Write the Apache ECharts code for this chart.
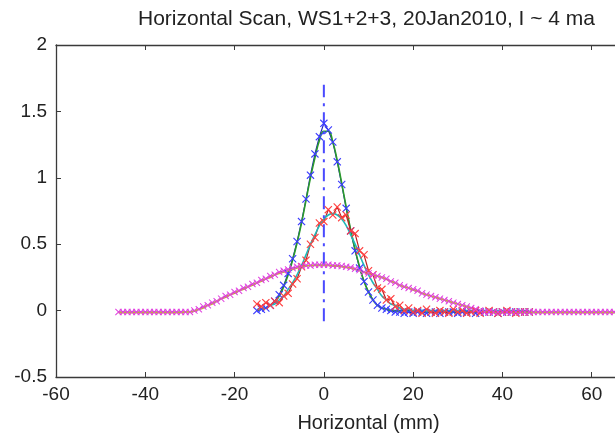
<!DOCTYPE html>
<html>
<head>
<meta charset="utf-8">
<script src="https://cdn.jsdelivr.net/npm/echarts@6/dist/echarts.min.js"></script>
<style>html,body{margin:0;padding:0;background:#fff;}#c{width:615px;height:438px;}</style>
</head>
<body>
<div id="c"></div>
<script>
// ---- data ----
var narrowX = [-15,-14,-13,-12,-11,-10,-9,-8,-7,-6,-5,-4,-3,-2,-1,0,1,2,3,4,5,6,7,8,9,10,11,12,13,14,15,16,17,18,19,20,21,22,23,24,25,26,27,28,29,30,31,32,33,34,35,36,37,38,39,40,41,42,43,44,45,46];
var blueData = [0.00,0.01,0.02,0.04,0.07,0.12,0.19,0.28,0.39,0.52,0.67,0.84,1.02,1.18,1.31,1.41,1.36,1.27,1.12,0.95,0.77,0.60,0.45,0.32,0.22,0.14,0.08,0.04,0.02,0.01,0.00,
  -0.01,-0.01,-0.02,-0.01,-0.02,-0.01,-0.01,-0.02,-0.01,-0.01,-0.02,-0.01,-0.01,-0.01,-0.02,-0.01,-0.01,-0.01,-0.02,-0.01,-0.01,-0.01,-0.01,-0.02,-0.01,-0.01,-0.01,-0.01,-0.01,-0.01,-0.01];
var greenFit = [0.00,0.01,0.02,0.04,0.07,0.11,0.18,0.27,0.38,0.51,0.66,0.83,1.00,1.15,1.28,1.35,1.35,1.27,1.13,0.96,0.78,0.61,0.46,0.33,0.22,0.14,0.08,0.04,0.02,0.01,
  0.00,0.00,0.00,0.00,0.00,0.00,0.00,0.00,-0.01,-0.01,-0.01,-0.01,-0.01,-0.01,-0.01,-0.01,-0.01,-0.01,-0.01,-0.01,-0.01,-0.01,-0.01,-0.01,-0.01,-0.01,-0.01,-0.01,-0.01,-0.01,-0.01,-0.01];
var redData = [0.05,0.03,0.06,0.04,0.07,0.06,0.11,0.13,0.20,0.24,0.33,0.38,0.50,0.55,0.66,0.67,0.76,0.72,0.78,0.70,0.72,0.60,0.58,0.45,0.42,0.30,0.27,0.17,0.16,0.08,0.09,0.03,0.04,0.00,0.02,-0.01,
  0.00,-0.02,0.01,-0.01,-0.02,0.00,-0.01,-0.02,0.01,-0.01,0.00,-0.02,-0.01,0.00,-0.02,-0.01,0.00,-0.01,-0.02,-0.01,0.00,-0.01,-0.02,-0.01,-0.01,-0.01];
var cyanFit = [0.01,0.01,0.02,0.04,0.05,0.08,0.11,0.16,0.21,0.27,0.34,0.42,0.50,0.57,0.64,0.69,0.72,0.73,0.72,0.69,0.64,0.57,0.50,0.42,0.34,0.27,0.21,0.16,0.11,0.08,0.05,0.04,0.02,0.01,0.01,
  0.00,0.00,0.00,0.00,0.00,0.00,0.00,0.00,0.00,0.00,0.00,0.00,0.00,0.00,0.00,0.00,0.00,0.00,0.00,0.00,0.00,0.00,0.00,0.00,0.00,0.00,0.00];
var wideX = [-46,-45,-44,-43,-42,-41,-40,-39,-38,-37,-36,-35,-34,-33,-32,-31,-30,-29,-28,-27,-26,-25,-24,-23,-22,-21,-20,-19,-18,-17,-16,-15,-14,-13,-12,-11,-10,-9,-8,-7,-6,-5,-4,-3,-2,-1,0,1,2,3,4,5,6,7,8,9,10,11,12,13,14,15,16,17,18,19,20,21,22,23,24,25,26,27,28,29,30,31,32,33,34,35,36,37,38,39,40,41,42,43,44,45,46,47,48,49,50,51,52,53,54,55,56,57,58,59,60,61,62,63,64,65,66];
var magentaData = [-0.01,-0.01,-0.01,-0.01,-0.01,-0.01,-0.01,-0.01,-0.01,-0.01,-0.01,-0.01,-0.01,-0.01,-0.01,-0.01,-0.01,
  0.00,0.01,0.03,0.04,0.06,0.07,0.09,0.11,0.12,0.14,0.15,0.17,0.18,0.20,0.21,0.23,0.24,0.26,0.27,0.29,0.30,0.31,0.32,0.33,0.335,0.34,0.34,0.345,0.345,0.345,0.345,0.34,0.34,0.335,0.33,0.325,0.315,0.305,0.29,0.28,0.27,0.26,0.25,0.24,0.22,0.21,0.19,0.18,0.17,0.16,0.15,0.13,0.12,0.11,0.10,0.09,0.08,0.07,0.06,0.05,0.04,0.03,0.02,0.01,0.00,
  -0.01,-0.01,-0.01,-0.01,-0.01,-0.01,-0.01,-0.01,-0.01,-0.01,-0.01,-0.01,-0.01,-0.01,-0.01,-0.01,-0.01,-0.01,-0.01,-0.01,-0.01,-0.01,-0.01,-0.01,-0.01,-0.01,-0.01,-0.01,-0.01,-0.01,-0.01];
var yellowFit = [-0.015,-0.015,-0.015,-0.015,-0.015,-0.015,-0.015,-0.015,-0.015,-0.015,-0.015,-0.015,-0.015,-0.015,-0.015,-0.01,-0.01,
  -0.005,0.01,0.02,0.04,0.05,0.07,0.09,0.10,0.12,0.13,0.15,0.16,0.18,0.19,0.21,0.22,0.24,0.25,0.27,0.28,0.29,0.30,0.31,0.32,0.33,0.335,0.34,0.34,0.34,0.34,0.34,0.335,0.335,0.33,0.325,0.32,0.31,0.30,0.29,0.28,0.27,0.26,0.25,0.235,0.22,0.21,0.19,0.18,0.17,0.155,0.145,0.13,0.12,0.11,0.10,0.09,0.08,0.07,0.06,0.05,0.04,0.03,0.02,0.01,0.00,
  -0.01,-0.01,-0.015,-0.015,-0.015,-0.015,-0.015,-0.015,-0.015,-0.015,-0.015,-0.015,-0.015,-0.015,-0.015,-0.015,-0.015,-0.015,-0.015,-0.015,-0.015,-0.015,-0.015,-0.015,-0.015,-0.015,-0.015,-0.015,-0.015,-0.015,-0.015];
var centerLineX = [0, 0];
var centerLineY = [-0.08, 1.70];
var xTicks = {min: -60, max: 80, interval: 20};
var yTicks = {min: -0.5, max: 2, interval: 0.5};
var titleText = 'Horizontal Scan, WS1+2+3, 20Jan2010, I ~ 4 ma';
var xName = 'Horizontal (mm)';

// ---- chart ----
function pairs(xs, ys) { return xs.map(function (x, i) { return [x, ys[i]]; }); }
var X = 'path://M0,1L1,0L5,4L9,0L10,1L6,5L10,9L9,10L5,6L1,10L0,9L4,5Z';
var FONT = 'Liberation Sans, Arial, sans-serif';
var axisCol = '#3a3a3a';

function markSeries(xs, ys, col, lineCol, size) {
  return {
    type: 'line', data: pairs(xs, ys), symbol: X, symbolSize: size, showSymbol: true,
    itemStyle: {color: col}, lineStyle: {color: lineCol, width: 1.2}, silent: true, animation: false, clip: true
  };
}
function fitSeries(xs, ys, col) {
  return {
    type: 'line', data: pairs(xs, ys), symbol: 'none', smooth: true,
    lineStyle: {color: col, width: 1.6}, silent: true, animation: false, clip: true
  };
}

var chart = echarts.init(document.getElementById('c'), null, {renderer: 'canvas'});
chart.setOption({
  backgroundColor: '#ffffff',
  animation: false,
  title: {
    text: titleText, left: 133, top: 4,
    textStyle: {fontFamily: FONT, fontSize: 21, fontWeight: 'normal', color: '#222'}
  },
  grid: {left: 56, top: 45, bottom: 61, right: -66, containLabel: false, outerBoundsMode: 'none'},
  xAxis: [{
    type: 'value', min: xTicks.min, max: xTicks.max, interval: xTicks.interval,
    name: xName, nameLocation: 'middle', nameGap: 36,
    nameTextStyle: {fontFamily: FONT, fontSize: 20, color: '#222'},
    axisLine: {show: true, onZero: false, lineStyle: {color: axisCol, width: 1.3}},
    axisTick: {show: true, inside: true, length: 5, lineStyle: {color: axisCol}},
    axisLabel: {fontFamily: FONT, fontSize: 19, color: '#222', margin: 8},
    splitLine: {show: false}
  }, {
    type: 'value', position: 'top', min: xTicks.min, max: xTicks.max, interval: xTicks.interval,
    axisLine: {show: true, onZero: false, lineStyle: {color: axisCol, width: 1.3}},
    axisTick: {show: true, inside: true, length: 5, lineStyle: {color: axisCol}},
    axisLabel: {show: false}, splitLine: {show: false}
  }],
  yAxis: [{
    type: 'value', min: yTicks.min, max: yTicks.max, interval: yTicks.interval,
    axisLine: {show: true, onZero: false, lineStyle: {color: axisCol, width: 1.3}},
    axisTick: {show: true, inside: true, length: 5, lineStyle: {color: axisCol}},
    axisLabel: {fontFamily: FONT, fontSize: 19, color: '#222', margin: 9},
    splitLine: {show: false}
  }],
  series: [
    markSeries(narrowX, blueData, '#3c3cff', '#2020c0', 8),
    fitSeries(narrowX, greenFit, '#2a9a2a'),
    markSeries(narrowX, redData, '#ff4040', '#c02020', 8),
    fitSeries(narrowX, cyanFit, '#20b8b8'),
    markSeries(wideX, magentaData, '#e040e0', '#c040c0', 7),
    fitSeries(wideX, yellowFit, '#c0c020'),
    {
      type: 'line', data: pairs(centerLineX, centerLineY), symbol: 'none',
      lineStyle: {color: '#4a4aff', width: 2, type: [13, 6, 3, 6]}, silent: true, animation: false
    }
  ]
});
</script>
</body>
</html>
